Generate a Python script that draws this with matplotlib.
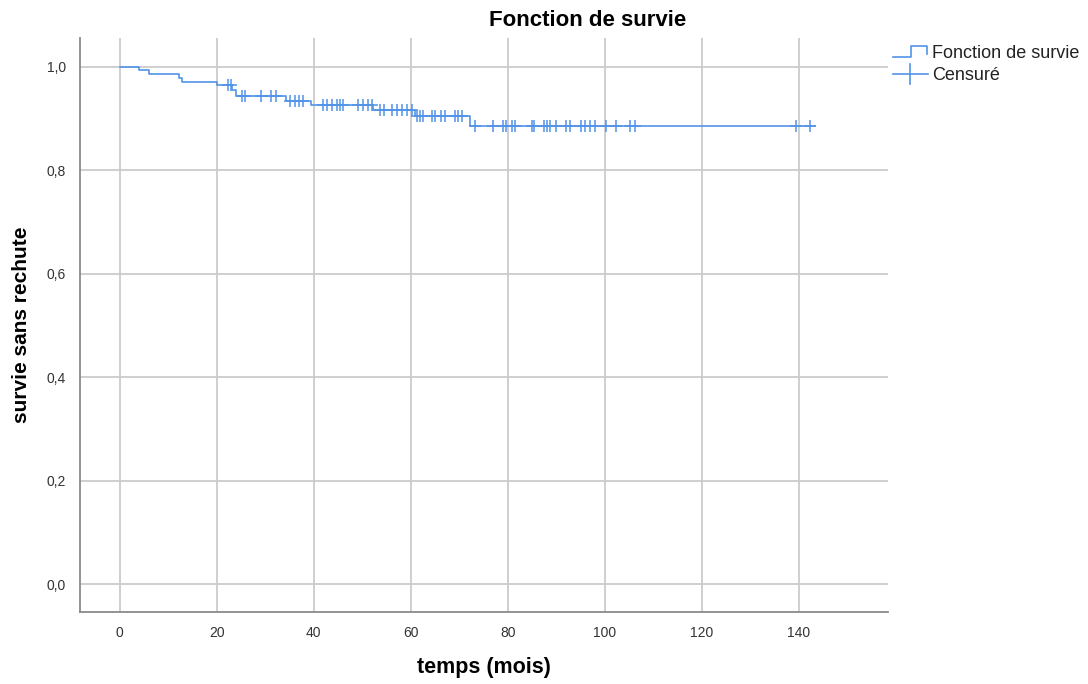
"""Kaplan-Meier style survival curve (SPSS look) with censor marks."""

import numpy as np
import matplotlib
matplotlib.use("Agg")
import matplotlib.pyplot as plt
from matplotlib.lines import Line2D
from matplotlib.ticker import FuncFormatter

plt.rcParams["font.family"] = ["Liberation Sans", "DejaVu Sans"]

# step times (months) and survival level from each time onward
event_times = [0, 4.0, 6.0, 12.2, 12.9, 20.1, 23.2, 23.9, 34.2, 39.5, 52.3, 60.8, 72.2]
surv_levels = [1.0, 0.994, 0.987, 0.979, 0.971, 0.965, 0.956, 0.943, 0.934, 0.926,
               0.916, 0.906, 0.886]
end_time = 143.3

censor_times = [22.3, 23.0,
                25.2, 25.8, 29.2, 31.1, 32.2,
                35.2, 36.1, 37.0, 37.8,
                41.9, 42.7, 43.7, 44.7, 45.4, 46.0, 49.1, 50.1, 51.1, 52.0,
                53.6, 54.4, 56.2, 57.2, 58.2, 59.2, 60.2,
                61.2, 61.9, 62.5, 64.3, 64.9, 66.3, 67.0, 69.1, 69.8, 70.5,
                73.2, 77.0, 79.0, 79.7, 80.8, 81.4, 85.1, 85.4, 87.4, 88.0, 88.7,
                89.9, 92.1, 92.9, 95.2, 95.9, 96.9, 97.9, 100.2, 102.3, 105.2,
                106.2, 139.4, 142.4]

x_ticks = [0, 20, 40, 60, 80, 100, 120, 140]
y_ticks = [0.0, 0.2, 0.4, 0.6, 0.8, 1.0]

BLUE = "#5293e8"
GRID = "#cbcbcb"

fig = plt.figure(figsize=(10.88, 6.84), dpi=100)
ax = fig.add_axes([80 / 1088, 1 - 612 / 684, 808 / 1088, 574 / 684])

# survival step line
xs = list(event_times) + [end_time]
ys = list(surv_levels) + [surv_levels[-1]]
ax.step(xs, ys, where="post", color=BLUE, lw=1.2, zorder=3)

# censor marks on the curve
idx = np.searchsorted(event_times, censor_times, side="right") - 1
cy = np.array(surv_levels)[idx]
ax.plot(censor_times, cy, ls="none", marker="+", ms=8, mew=1.1,
        color=BLUE, zorder=4)

ax.set_xlim(-8.2, 158.4)
ax.set_ylim(-0.054, 1.056)
ax.set_xticks(x_ticks)
ax.set_yticks(y_ticks)
ax.yaxis.set_major_formatter(FuncFormatter(lambda v, p: f"{v:.1f}".replace(".", ",")))
ax.tick_params(length=0, labelsize=10, colors="#333333", pad=10)
ax.grid(True, color=GRID, lw=1.3)
ax.set_axisbelow(True)
for side in ("top", "right"):
    ax.spines[side].set_visible(False)
for side in ("left", "bottom"):
    ax.spines[side].set_color("#8a8a8a")
    ax.spines[side].set_linewidth(1.3)

fig.text(588 / 1088, 1 - 20 / 684, "Fonction de survie", ha="center", va="center",
         fontsize=16, fontweight="bold")
fig.text(22 / 1088, 1 - 325 / 684, "survie sans rechute", ha="center", va="center",
         rotation=90, fontsize=15, fontweight="bold")
fig.text(484 / 1088, 1 - 668 / 684, "temps (mois)", ha="center", va="center",
         fontsize=15.5, fontweight="bold")


# hand-drawn legend (SPSS style)
def fx(px):
    return px / 1088


def fy(py):
    return 1 - py / 684


fig.add_artist(Line2D([fx(893), fx(911), fx(911), fx(927), fx(927)],
                      [fy(57), fy(57), fy(46), fy(46), fy(54)],
                      transform=fig.transFigure, color=BLUE, lw=1.2))
fig.add_artist(Line2D([fx(893), fx(928)], [fy(74), fy(74)],
                      transform=fig.transFigure, color=BLUE, lw=1.2))
fig.add_artist(Line2D([fx(910), fx(910)], [fy(64), fy(84)],
                      transform=fig.transFigure, color=BLUE, lw=1.2))
fig.text(fx(932), fy(53), "Fonction de survie", ha="left", va="center", fontsize=13,
         color="#222222")
fig.text(fx(932), fy(76), "Censuré", ha="left", va="center", fontsize=13,
         color="#222222")

fig.savefig("out.png", dpi=100)
